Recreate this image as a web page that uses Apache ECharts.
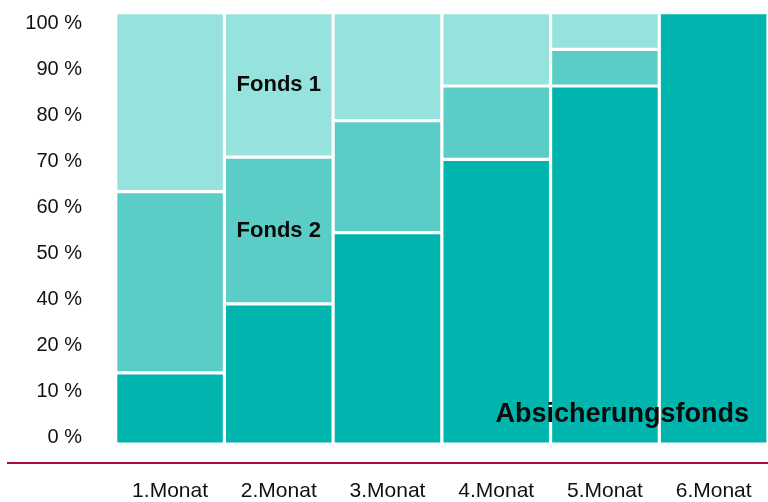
<!DOCTYPE html>
<html>
<head>
<meta charset="utf-8">
<script src="https://cdn.jsdelivr.net/npm/echarts@6/dist/echarts.min.js"></script>
<style>
  html, body { margin: 0; padding: 0; background: #fff; }
  #chart { width: 768px; height: 502px; }
</style>
</head>
<body>
<div id="chart"></div>
<script>
// Monate auf der x-Achse
const months = ['1.Monat', '2.Monat', '3.Monat', '4.Monat', '5.Monat', '6.Monat'];

// Anteile in Prozent (von unten nach oben gestapelt)
const absicherung = [16.5, 32.5, 49, 66, 83, 100];
const fonds2 = [42, 34, 26, 17, 8.5, 0];
const fonds1 = [41.5, 33.5, 25, 17, 8.5, 0];

// Beschriftungen der y-Achse, so wie sie im Bild stehen (von unten nach oben)
const yTickLabels = ['0 %', '10 %', '20 %', '40 %', '50 %', '60 %', '70 %', '80 %', '90 %', '100 %'];

const colDark = '#00b5ae';
const colMid = '#5acdc6';
const colLight = '#96e2dc';
const fontFamily = '"Liberation Sans", Arial, sans-serif';

const chart = echarts.init(document.getElementById('chart'));

function seriesItem(name, data, color, labelFor) {
    return {
        name: name,
        type: 'bar',
        stack: 'total',
        xAxisIndex: 0,
        yAxisIndex: 0,
        barCategoryGap: 0,
        data: data.map((v, i) => {
            const item = { value: v };
            if (labelFor && labelFor[i]) item.label = labelFor[i];
            return item;
        }),
        itemStyle: { color: color, borderColor: '#ffffff', borderWidth: 1.6 },
        label: { show: false },
        silent: true
    };
}

const boldLabel = {
    show: true,
    color: '#0a0a0a',
    fontFamily: fontFamily,
    fontWeight: 'bold',
    fontSize: 22
};

chart.setOption({
    animation: false,
    grid: [
        { left: 115.7, width: 653.3, top: 12.7, height: 432.6 },
        { left: 90, width: 10, top: 23, height: 414 }
    ],
    xAxis: [
        {
            type: 'category',
            gridIndex: 0,
            data: months,
            axisLine: { show: false },
            axisTick: { show: false },
            axisLabel: {
                margin: 37,
                fontSize: 21,
                lineHeight: 21,
                color: '#111111',
                fontFamily: fontFamily
            }
        },
        { type: 'value', gridIndex: 1, show: false }
    ],
    yAxis: [
        {
            type: 'value',
            gridIndex: 0,
            min: 0,
            max: 100,
            show: false
        },
        {
            type: 'category',
            gridIndex: 1,
            data: yTickLabels,
            boundaryGap: false,
            axisLine: { show: false },
            axisTick: { show: false },
            splitLine: { show: false },
            axisLabel: {
                margin: 8,
                fontSize: 20,
                color: '#111111',
                fontFamily: fontFamily,
                align: 'right'
            }
        }
    ],
    graphic: [
        {
            type: 'rect',
            shape: { x: 7, y: 462, width: 761, height: 2 },
            style: { fill: '#a50e36' },
            silent: true
        }
    ],
    series: [
        seriesItem('Absicherungsfonds', absicherung, colDark, {
            5: {
                show: true,
                position: 'insideBottomRight',
                distance: 0,
                offset: [-19, -16],
                formatter: '{a}',
                color: '#0a0a0a',
                fontFamily: fontFamily,
                fontWeight: 'bold',
                fontSize: 27
            }
        }),
        seriesItem('Fonds 2', fonds2, colMid, {
            1: Object.assign({ position: 'inside', formatter: 'Fonds 2' }, boldLabel)
        }),
        seriesItem('Fonds 1', fonds1, colLight, {
            1: Object.assign({ position: 'inside', formatter: 'Fonds 1' }, boldLabel)
        })
    ]
});
</script>
</body>
</html>
